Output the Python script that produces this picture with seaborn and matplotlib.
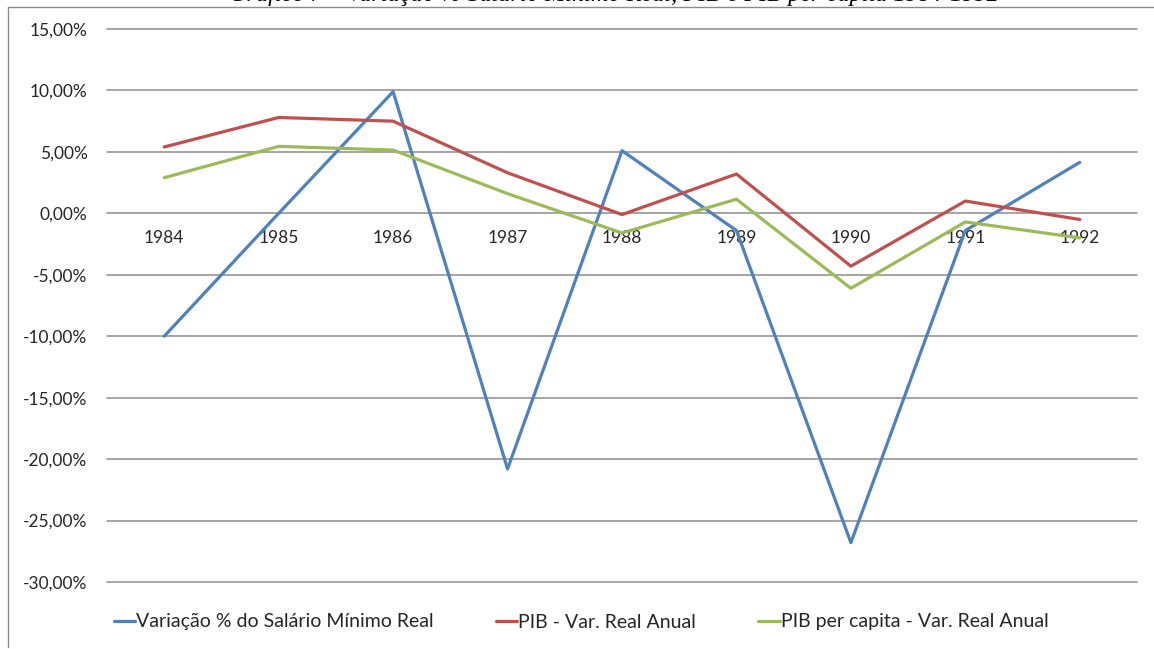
import matplotlib
matplotlib.use("Agg")
import matplotlib.pyplot as plt
from matplotlib.lines import Line2D
from matplotlib.ticker import FuncFormatter
import seaborn as sns
import pandas as pd

# Data (annual % change)
years = ["1984", "1985", "1986", "1987", "1988", "1989", "1990", "1991", "1992"]
salario_minimo = [-10.0, 0.0, 9.9, -20.8, 5.1, -1.4, -26.8, -1.4, 4.15]
pib = [5.4, 7.8, 7.5, 3.3, -0.1, 3.2, -4.3, 1.0, -0.5]
pib_per_capita = [2.9, 5.45, 5.15, 1.6, -1.6, 1.15, -6.1, -0.7, -2.0]

series_names = [
    "Variação % do Salário Mínimo Real",
    "PIB - Var. Real Anual",
    "PIB per capita - Var. Real Anual",
]
colors = ["#4F81BD", "#C0504D", "#9BBB59"]
title = "Gráfico 7 – Variação % Salário Mínimo Real, PIB e PIB per capita 1984-1992"

rows = []
for name, values in zip(series_names, [salario_minimo, pib, pib_per_capita]):
    for i, v in enumerate(values):
        rows.append({"pos": i, "valor": v, "serie": name})
df = pd.DataFrame(rows)

sns.set_theme(style="white")
plt.rcParams["font.family"] = ["Lato", "DejaVu Sans"]

W, H = 1154, 649
fig = plt.figure(figsize=(W / 100, H / 100), dpi=100)
fig.patch.set_facecolor("white")

# plot area in pixel coordinates
x0, x1 = 107, 1137
y_top, y_bot = 29, 582
ax = fig.add_axes([x0 / W, 1 - y_bot / H, (x1 - x0) / W, (y_bot - y_top) / H])

sns.lineplot(
    data=df, x="pos", y="valor", hue="serie", hue_order=series_names,
    palette=colors, linewidth=2.3, sort=False, ax=ax, legend=False,
)

ax.set_xlim(-0.5, len(years) - 0.5)
ax.set_ylim(-30, 15)
ax.set_yticks(range(-30, 16, 5))
ax.yaxis.set_major_formatter(FuncFormatter(lambda v, _: f"{v:.2f}%".replace(".", ",")))
ax.set_xticks(range(len(years)))
ax.set_xticklabels(years)

for s in ax.spines.values():
    s.set_visible(False)
ax.spines["bottom"].set_position(("data", 0))

ax.grid(axis="y", color="#8C8C8C", linewidth=1.1)
ax.grid(axis="x", visible=False)
for gl in ax.get_ygridlines():
    gl.set_clip_on(False)
ax.set_axisbelow(True)

ax.tick_params(axis="y", length=0, pad=14, labelsize=12.5, labelcolor="#262626")
ax.tick_params(axis="x", length=0, pad=12, labelsize=12.5, labelcolor="#262626")
ax.set_xlabel("")
ax.set_ylabel("")

# legend below the plot
handles = [Line2D([0], [0], color=c, linewidth=2.3) for c in colors]
fig.legend(
    handles, series_names, loc="center", ncol=3,
    bbox_to_anchor=(581 / W, 1 - 622 / H), frameon=False,
    fontsize=14, handlelength=1.1, handletextpad=0.05, columnspacing=3.2,
    labelcolor="#262626",
)

# chart frame (top and left edges)
fig.add_artist(Line2D([8 / W, 1.0], [1 - 7 / H, 1 - 7 / H], transform=fig.transFigure,
                      color="#8C8C8C", linewidth=1.0))
fig.add_artist(Line2D([8 / W, 8 / W], [1 - 7 / H, 1 - 647 / H], transform=fig.transFigure,
                      color="#8C8C8C", linewidth=1.0))

# caption above the chart
fig.text(614 / W, 1 - 1 / H, title, ha="center", va="baseline",
         fontsize=17.5, style="italic", family=["Liberation Serif", "DejaVu Serif"],
         color="black")

fig.savefig("out.png", dpi=100, facecolor="white")
